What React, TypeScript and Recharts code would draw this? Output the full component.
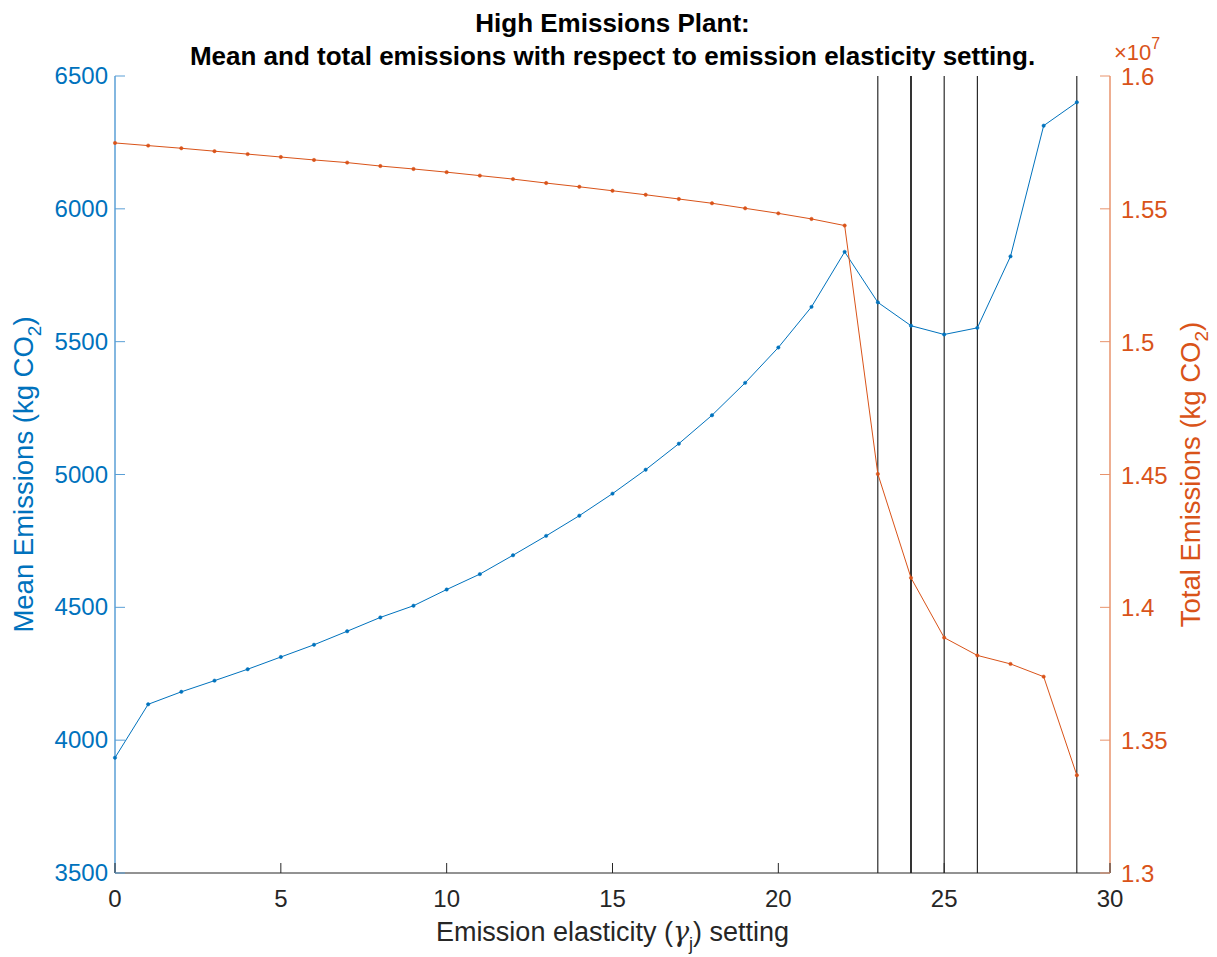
import React from 'react'
import { LineChart, Line, XAxis, YAxis, ReferenceLine } from 'recharts'

// elasticity settings 0..29
const settings = [
  0, 1, 2, 3, 4, 5, 6, 7, 8, 9, 10, 11, 12, 13, 14, 15, 16, 17, 18, 19, 20, 21, 22, 23, 24, 25, 26, 27,
  28, 29,
]

// mean emissions per setting (kg CO2)
const meanEmissions = [
  3934, 4135, 4182, 4224, 4267, 4313, 4359, 4410, 4462, 4506, 4567, 4625, 4696, 4769, 4845, 4928, 5018,
  5116, 5223, 5345, 5478, 5631, 5838, 5648, 5560, 5527, 5552, 5821, 6313, 6401,
]

// total emissions per setting (kg CO2)
const totalEmissions = [
  1.5748e7, 1.5738e7, 1.5728e7, 1.5717e7, 1.5706e7, 1.5695e7, 1.5684e7, 1.5674e7, 1.5661e7, 1.565e7,
  1.5638e7, 1.5625e7, 1.5612e7, 1.5597e7, 1.5583e7, 1.5568e7, 1.5553e7, 1.5537e7, 1.5521e7, 1.5502e7,
  1.5483e7, 1.5462e7, 1.5437e7, 1.4502e7, 1.4111e7, 1.3886e7, 1.3819e7, 1.3787e7, 1.3739e7, 1.3368e7,
]

// settings marked with vertical lines
const markedSettings = [23, 24, 25, 26, 29]

const xTicks = [0, 5, 10, 15, 20, 25, 30]
const meanTicks = [3500, 4000, 4500, 5000, 5500, 6000, 6500]
const totalTicks = [1.3e7, 1.35e7, 1.4e7, 1.45e7, 1.5e7, 1.55e7, 1.6e7]

const BLUE = '#0072BD'
const ORANGE = '#D95319'
const BLUE_AXIS = '#5a9fd6'
const ORANGE_AXIS = '#e8936c'
const DARK = '#262626'
const FONT = '"Liberation Sans", Arial, Helvetica, sans-serif'

const data = settings.map((s, i) => ({
  setting: s,
  mean: meanEmissions[i],
  total: totalEmissions[i],
}))

const BottomTick = ({ x, y, payload }: any) => (
  <g>
    <line x1={x} y1={y} x2={x} y2={y - 10} stroke={DARK} strokeWidth={1} />
    <text x={x} y={y + 34} textAnchor="middle" fill={DARK} fontSize={24} fontFamily={FONT}>
      {payload.value}
    </text>
  </g>
)

const TopTick = ({ x, y }: any) => <line x1={x} y1={y} x2={x} y2={y + 10} stroke={DARK} strokeWidth={1} />

const LeftTick = ({ x, y, payload }: any) => (
  <g>
    <line x1={x} y1={y} x2={x + 10} y2={y} stroke={BLUE_AXIS} strokeWidth={1} />
    <text x={x - 7} y={y + 8} textAnchor="end" fill={BLUE} fontSize={24} fontFamily={FONT}>
      {payload.value}
    </text>
  </g>
)

const RightTick = ({ x, y, payload }: any) => (
  <g>
    <line x1={x} y1={y} x2={x - 10} y2={y} stroke={ORANGE_AXIS} strokeWidth={1} />
    <text x={x + 11} y={y + 9} textAnchor="start" fill={ORANGE} fontSize={24} fontFamily={FONT}>
      {Number((payload.value / 1e7).toFixed(2))}
    </text>
  </g>
)

const XLabel = ({ viewBox }: any) => (
  <text
    x={viewBox.x + viewBox.width / 2}
    y={viewBox.y + 68}
    textAnchor="middle"
    fill={DARK}
    fontSize={27}
    fontFamily={FONT}
  >
    Emission elasticity (<tspan fontFamily="DejaVu Serif" fontStyle="italic">γ</tspan>
    <tspan dy={9} fontSize={18}>j</tspan>
    <tspan dy={-9}>) setting</tspan>
  </text>
)

// left label also carries the two-line title
const LeftLabel = ({ viewBox }: any) => {
  const cy = viewBox.y + viewBox.height / 2
  return (
    <g fontFamily={FONT}>
      <g fontWeight="bold" fontSize={26} fill="#000">
        <text x={612.5} y={32} textAnchor="middle">
          High Emissions Plant:
        </text>
        <text x={612.5} y={65} textAnchor="middle">
          Mean and total emissions with respect to emission elasticity setting.
        </text>
      </g>
      <text
        x={33}
        y={cy}
        transform={`rotate(-90, 33, ${cy})`}
        textAnchor="middle"
        fill={BLUE}
        fontSize={27.5}
      >
        Mean Emissions (kg CO<tspan dy={8} fontSize={19}>2</tspan>
        <tspan dy={-8}>)</tspan>
      </text>
    </g>
  )
}

const RightLabel = ({ viewBox }: any) => {
  const cy = viewBox.y + viewBox.height / 2
  return (
    <g fontFamily={FONT} fill={ORANGE}>
      <text x={1114} y={60} fontSize={22}>
        ×10<tspan dy={-11} fontSize={16}>7</tspan>
      </text>
      <text x={1200} y={cy} transform={`rotate(-90, 1200, ${cy})`} textAnchor="middle" fontSize={27.5}>
        Total Emissions (kg CO<tspan dy={8} fontSize={19}>2</tspan>
        <tspan dy={-8}>)</tspan>
      </text>
    </g>
  )
}

export default function App() {
  return (
    <div style={{ position: 'absolute', left: 0, top: 0, width: 1217, height: 957, background: '#fff', fontFamily: FONT }}>
      <LineChart width={1217} height={957} data={data} margin={{ top: 76, right: 0, bottom: 0, left: 0 }}>
        <XAxis
          xAxisId="bottom"
          dataKey="setting"
          type="number"
          domain={[0, 30]}
          ticks={xTicks}
          height={84}
          tickSize={0}
          tickMargin={0}
          tick={<BottomTick />}
          axisLine={{ stroke: DARK, strokeWidth: 1 }}
          label={<XLabel />}
        />
        <XAxis
          xAxisId="top"
          orientation="top"
          dataKey="setting"
          type="number"
          domain={[0, 30]}
          ticks={xTicks}
          height={0}
          tickSize={0}
          tickMargin={0}
          tick={<TopTick />}
          axisLine={{ stroke: DARK, strokeWidth: 1 }}
        />
        <YAxis
          yAxisId="left"
          domain={[3500, 6500]}
          ticks={meanTicks}
          width={115}
          tickSize={0}
          tickMargin={0}
          tick={<LeftTick />}
          axisLine={{ stroke: BLUE_AXIS, strokeWidth: 1.5 }}
          label={<LeftLabel />}
        />
        <YAxis
          yAxisId="right"
          orientation="right"
          domain={[1.3e7, 1.6e7]}
          ticks={totalTicks}
          width={107}
          tickSize={0}
          tickMargin={0}
          tick={<RightTick />}
          axisLine={{ stroke: ORANGE_AXIS, strokeWidth: 1.5 }}
          label={<RightLabel />}
        />
        {markedSettings.map((s) => (
          <ReferenceLine
            key={s}
            x={s}
            xAxisId="bottom"
            yAxisId="left"
            stroke="#000"
            strokeWidth={s === 24 ? 1.6 : 1}
          />
        ))}
        <Line
          xAxisId="bottom"
          yAxisId="left"
          dataKey="mean"
          type="linear"
          stroke={BLUE}
          strokeWidth={1}
          dot={{ r: 1.7, fill: BLUE, stroke: BLUE, strokeWidth: 0.5 }}
          activeDot={false}
          isAnimationActive={false}
        />
        <Line
          xAxisId="bottom"
          yAxisId="right"
          dataKey="total"
          type="linear"
          stroke={ORANGE}
          strokeWidth={1}
          dot={{ r: 1.7, fill: ORANGE, stroke: ORANGE, strokeWidth: 0.5 }}
          activeDot={false}
          isAnimationActive={false}
        />
      </LineChart>
    </div>
  )
}
